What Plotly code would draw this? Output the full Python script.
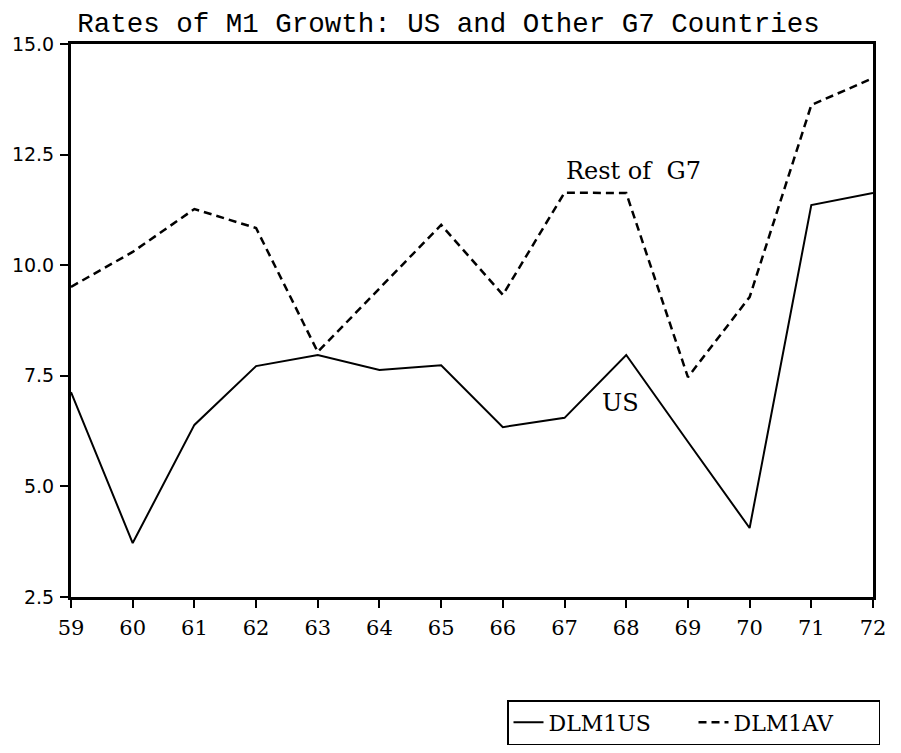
import plotly.graph_objects as go

years = [59, 60, 61, 62, 63, 64, 65, 66, 67, 68, 69, 70, 71, 72]
dlm1us = [7.13, 3.72, 6.39, 7.72, 7.97, 7.63, 7.74, 6.34, 6.55, 7.97, 6.01, 4.06, 11.36, 11.63]
dlm1av = [9.51, 10.30, 11.27, 10.84, 8.04, 9.48, 10.91, 9.33, 11.64, 11.63, 7.47, 9.28, 13.62, 14.23]
x_ticks = years
y_ticks = [2.5, 5.0, 7.5, 10.0, 12.5, 15.0]
y_tick_text = ["2.5", "5.0", "7.5", "10.0", "12.5", "15.0"]

# page has an 8px body margin; figure is sized so that it ends at the window edge
W, H = 893, 745

fig = go.Figure()
fig.add_trace(go.Scatter(x=years, y=dlm1us, mode="lines", name="DLM1US",
                         line=dict(color="black", width=2)))
fig.add_trace(go.Scatter(x=years, y=dlm1av, mode="lines", name="DLM1AV",
                         line=dict(color="black", width=2.5, dash="8px,5px")))

fig.add_annotation(x=68.12, y=12.13, xref="x", yref="y", text="Rest of  G7",
                   showarrow=False, font=dict(family="DejaVu Serif", size=24, color="black"))
fig.add_annotation(x=67.9, y=6.88, xref="x", yref="y", text="US",
                   showarrow=False, font=dict(family="DejaVu Serif", size=24, color="black"))

fig.update_layout(
    width=W, height=H,
    margin=dict(l=63, r=28, t=36, b=156, autoexpand=False),
    paper_bgcolor="white", plot_bgcolor="white",
    title=dict(text="Rates of M1 Growth: US and Other G7 Countries",
               x=(448.5 - 8) / W, xanchor="center", xref="container",
               y=1 - 14 / H, yanchor="middle", yref="container",
               font=dict(family="Liberation Mono", size=27.5, color="black")),
    showlegend=True,
    legend=dict(orientation="h", x=(880 - 71) / 802, xanchor="right",
                y=(597 - 700) / 553, yanchor="top",
                entrywidth=140, entrywidthmode="pixels",
                bordercolor="black", borderwidth=1.5, bgcolor="white",
                font=dict(family="DejaVu Serif", size=22, color="black")),
)
fig.update_xaxes(range=[59, 72], tickvals=x_ticks, ticktext=[str(v) for v in x_ticks],
                 automargin=False,
                 showgrid=False, zeroline=False, showline=True, linecolor="black", linewidth=3,
                 mirror=True, ticks="outside", ticklen=8, tickwidth=2, tickcolor="black",
                 ticklabelstandoff=2,
                 tickfont=dict(family="DejaVu Serif", size=21, color="black"))
fig.update_yaxes(range=[2.5, 15], tickvals=y_ticks, ticktext=y_tick_text,
                 automargin=False,
                 showgrid=False, zeroline=False, showline=True, linecolor="black", linewidth=3,
                 mirror=True, ticks="outside", ticklen=8, tickwidth=2, tickcolor="black",
                 ticklabelstandoff=2,
                 tickfont=dict(family="DejaVu Sans", size=19, color="black"))

fig.write_html("out.html")
